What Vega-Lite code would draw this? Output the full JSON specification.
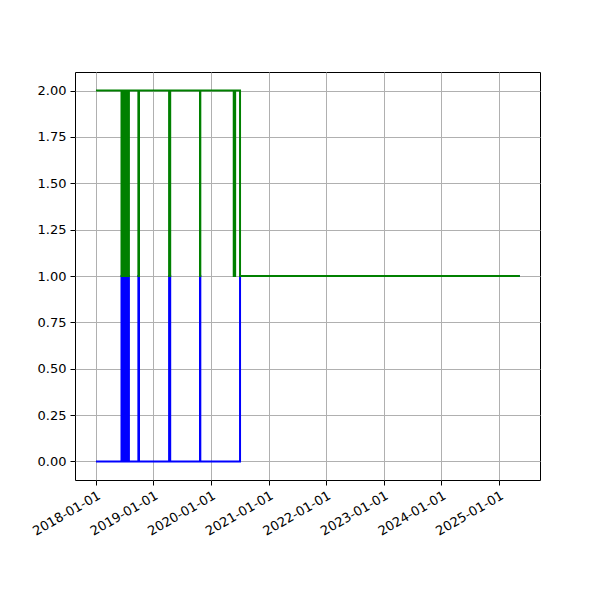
{
  "$schema": "https://vega.github.io/schema/vega-lite/v6.json",
  "width": 465,
  "height": 408,
  "autosize": {"type": "none"},
  "padding": {"left": 75, "top": 72, "right": 60, "bottom": 120},
  "background": "white",
  "config": {
    "view": {"stroke": "black", "strokeWidth": 1},
    "axis": {
      "domain": false,
      "grid": true,
      "gridColor": "#b0b0b0",
      "gridWidth": 1,
      "tickColor": "black",
      "tickWidth": 1,
      "tickSize": 5,
      "labelColor": "black",
      "labelFont": "DejaVu Sans",
      "labelFontSize": 13,
      "labelPadding": 4,
      "title": null
    }
  },
  "datasets": {
    "steps": [
      {"date": "2018-01-01", "series": "blue", "value": 0},
      {"date": "2018-06-12", "series": "blue", "value": 1},
      {"date": "2018-06-13", "series": "blue", "value": 0},
      {"date": "2018-06-21", "series": "blue", "value": 1},
      {"date": "2018-06-24", "series": "blue", "value": 0},
      {"date": "2018-06-26", "series": "blue", "value": 1},
      {"date": "2018-06-30", "series": "blue", "value": 0},
      {"date": "2018-07-02", "series": "blue", "value": 1},
      {"date": "2018-07-06", "series": "blue", "value": 0},
      {"date": "2018-07-08", "series": "blue", "value": 1},
      {"date": "2018-07-12", "series": "blue", "value": 0},
      {"date": "2018-07-14", "series": "blue", "value": 1},
      {"date": "2018-07-18", "series": "blue", "value": 0},
      {"date": "2018-07-20", "series": "blue", "value": 1},
      {"date": "2018-07-24", "series": "blue", "value": 0},
      {"date": "2018-07-25", "series": "blue", "value": 1},
      {"date": "2018-07-29", "series": "blue", "value": 0},
      {"date": "2018-09-27", "series": "blue", "value": 1},
      {"date": "2018-10-01", "series": "blue", "value": 0},
      {"date": "2019-04-10", "series": "blue", "value": 1},
      {"date": "2019-04-17", "series": "blue", "value": 0},
      {"date": "2019-10-23", "series": "blue", "value": 1},
      {"date": "2019-10-25", "series": "blue", "value": 0},
      {"date": "2020-07-03", "series": "blue", "value": 1},
      {"date": "2025-05-13", "series": "blue", "value": 1},
      {"date": "2018-01-01", "series": "green", "value": 2},
      {"date": "2018-06-12", "series": "green", "value": 1},
      {"date": "2018-06-13", "series": "green", "value": 2},
      {"date": "2018-06-21", "series": "green", "value": 1},
      {"date": "2018-06-24", "series": "green", "value": 2},
      {"date": "2018-06-26", "series": "green", "value": 1},
      {"date": "2018-06-30", "series": "green", "value": 2},
      {"date": "2018-07-02", "series": "green", "value": 1},
      {"date": "2018-07-06", "series": "green", "value": 2},
      {"date": "2018-07-08", "series": "green", "value": 1},
      {"date": "2018-07-12", "series": "green", "value": 2},
      {"date": "2018-07-14", "series": "green", "value": 1},
      {"date": "2018-07-18", "series": "green", "value": 2},
      {"date": "2018-07-20", "series": "green", "value": 1},
      {"date": "2018-07-24", "series": "green", "value": 2},
      {"date": "2018-07-25", "series": "green", "value": 1},
      {"date": "2018-07-29", "series": "green", "value": 2},
      {"date": "2018-09-27", "series": "green", "value": 1},
      {"date": "2018-10-01", "series": "green", "value": 2},
      {"date": "2019-04-10", "series": "green", "value": 1},
      {"date": "2019-04-17", "series": "green", "value": 2},
      {"date": "2019-10-23", "series": "green", "value": 1},
      {"date": "2019-10-25", "series": "green", "value": 2},
      {"date": "2020-05-24", "series": "green", "value": 1},
      {"date": "2020-06-02", "series": "green", "value": 2},
      {"date": "2020-07-03", "series": "green", "value": 1},
      {"date": "2025-05-13", "series": "green", "value": 1}
    ]
  },
  "data": {"name": "steps"},
  "encoding": {
    "x": {
      "field": "date",
      "type": "temporal",
      "scale": {
        "type": "utc",
        "domain": [
          {"year": 2017, "month": 8, "date": 21, "utc": true},
          {"year": 2025, "month": 9, "date": 18, "utc": true}
        ],
        "nice": false
      },
      "axis": {
        "values": [
          {"year": 2018, "month": 1, "date": 1, "utc": true},
          {"year": 2019, "month": 1, "date": 1, "utc": true},
          {"year": 2020, "month": 1, "date": 1, "utc": true},
          {"year": 2021, "month": 1, "date": 1, "utc": true},
          {"year": 2022, "month": 1, "date": 1, "utc": true},
          {"year": 2023, "month": 1, "date": 1, "utc": true},
          {"year": 2024, "month": 1, "date": 1, "utc": true},
          {"year": 2025, "month": 1, "date": 1, "utc": true}
        ],
        "labelExpr": "utcFormat(datum.value, '%Y-%m-%d')",
        "labelAngle": -30,
        "labelAlign": "right",
        "labelBaseline": "top",
        "labelOverlap": false,
        "labelFlush": false
      }
    },
    "y": {
      "field": "value",
      "type": "quantitative",
      "scale": {"domain": [-0.1, 2.1], "nice": false, "zero": false},
      "axis": {
        "values": [0, 0.25, 0.5, 0.75, 1, 1.25, 1.5, 1.75, 2],
        "format": ".2f",
        "labelOverlap": false,
        "labelFlush": false
      }
    }
  },
  "layer": [
    {
      "transform": [{"filter": "datum.series === 'blue'"}],
      "mark": {"type": "line", "interpolate": "step-after", "color": "blue", "strokeWidth": 2}
    },
    {
      "transform": [{"filter": "datum.series === 'green'"}],
      "mark": {"type": "line", "interpolate": "step-after", "color": "green", "strokeWidth": 2}
    }
  ]
}
